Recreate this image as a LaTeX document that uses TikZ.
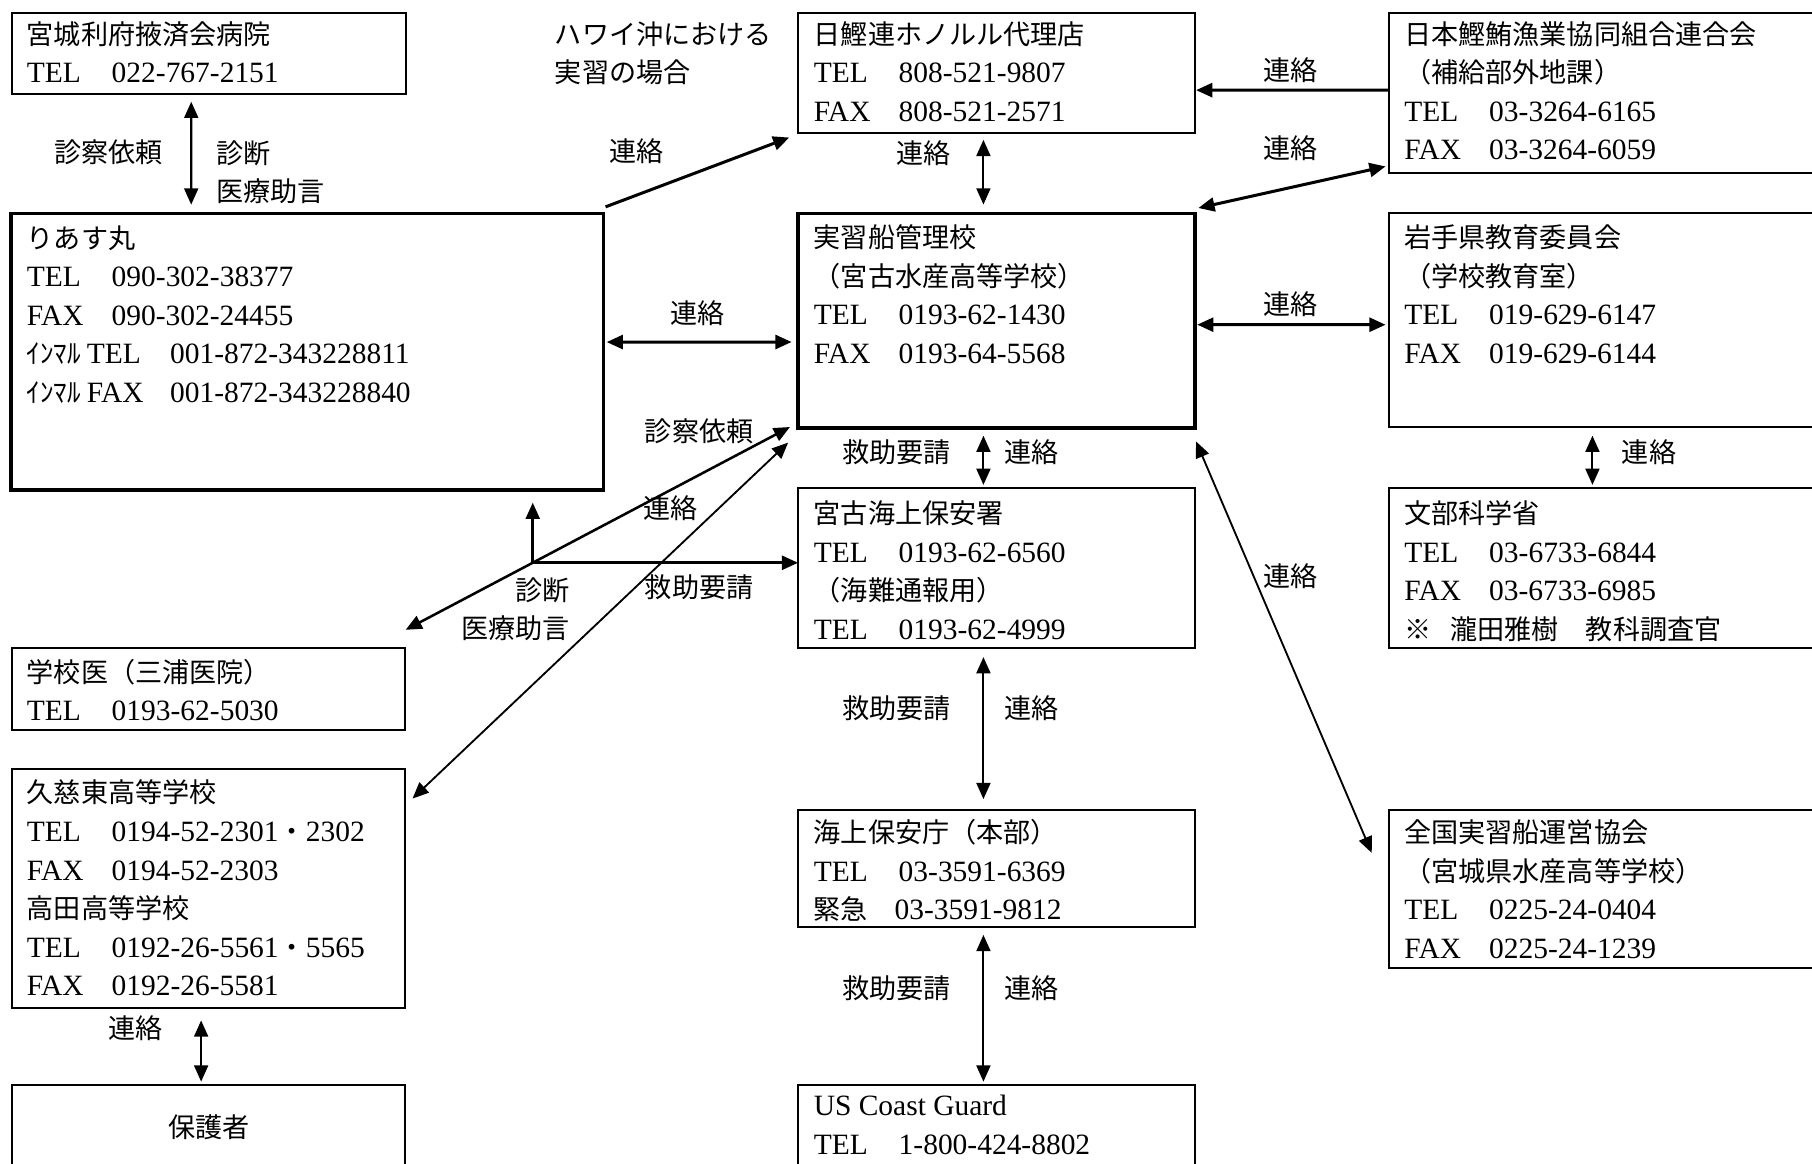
\documentclass[tikz,border=0pt]{standalone}
\usepackage{fontspec}
\setmainfont{Liberation Serif}
\newfontfamily\jp[Scale=0.92]{Noto Sans CJK JP}
\usetikzlibrary{arrows.meta}
\newcommand\fst{\rule{0pt}{25pt}}
\newcommand\numrow[3][73.5pt]{\makebox[#1][l]{#2}#3}
\begin{document}
\begin{tikzpicture}[x=1pt, y=-1pt,
  >={Triangle[length=14pt,width=12pt]},
  box/.style={draw, line width=1.7pt, anchor=north west, inner sep=0pt, outer sep=0pt},
  boldbox/.style={box, line width=3pt},
  txt/.style={anchor=north west, inner sep=0pt, align=left, font=\fontsize{25.5pt}{33.4pt}\selectfont},
  lbl/.style={inner sep=0pt, font=\fontsize{25.5pt}{30pt}\selectfont\jp},
  con/.style={line width=1.8pt},
  heavy/.style={line width=2.6pt},
  light/.style={line width=1.6pt},
  one/.style={con, ->},
  two/.style={con, <->},
]
\useasboundingbox (0,0) rectangle (1568,1007);
\clip (0,0) rectangle (1568,1007);

% boxes
\node[box, minimum width=341pt, minimum height=70pt] (A) at (10,11) {};
\node[boldbox, minimum width=512.3pt, minimum height=239.4pt] (B) at (9.7,184.6) {};
\node[box, minimum width=343.4pt, minimum height=103.8pt] (C) at (690.6,11) {};
\node[box, minimum width=400pt, minimum height=138.2pt] (D) at (1202,11.2) {};
\node[boldbox, minimum width=343.4pt, minimum height=185.9pt] (E) at (690.6,184.6) {};
\node[box, minimum width=400pt, minimum height=185.2pt] (F) at (1202,184.6) {};
\node[box, minimum width=343.4pt, minimum height=138.4pt] (G) at (690.6,422.6) {};
\node[box, minimum width=400pt, minimum height=138.4pt] (H) at (1202,422.6) {};
\node[box, minimum width=340.7pt, minimum height=70.7pt] (I) at (10,561) {};
\node[box, minimum width=340.7pt, minimum height=206.7pt] (J) at (10,665.7) {};
\node[box, minimum width=340.7pt, minimum height=100pt] (K) at (10,939) {};
\node[box, minimum width=343.4pt, minimum height=101.5pt] (L) at (690.6,701) {};
\node[box, minimum width=400pt, minimum height=136.4pt] (M) at (1202,701) {};
\node[box, minimum width=343.4pt, minimum height=100pt] (N) at (690.6,939) {};

% box texts
\node[txt] (tA) at (23,13) {\fst{\jp 宮城利府掖済会病院}\\ \numrow{TEL}{022-767-2151}};
\node[txt] (tB) at (23,189.5) {\fst{\jp りあす丸}\\ \numrow{TEL}{090-302-38377}\\ \numrow{FAX}{090-302-24455}\\ \numrow[124pt]{{\jp ｲﾝﾏﾙ}\hspace{5pt}TEL}{001-872-343228811}\\ \numrow[124pt]{{\jp ｲﾝﾏﾙ}\hspace{5pt}FAX}{001-872-343228840}};
\node[txt] (tC) at (704,13) {\fst{\jp 日鰹連ホノルル代理店}\\ \numrow{TEL}{808-521-9807}\\ \numrow{FAX}{808-521-2571}};
\node[txt] (tD) at (1215,13) {\fst{\jp 日本鰹鮪漁業協同組合連合会}\\ {\jp （補給部外地課）}\\ \numrow{TEL}{03-3264-6165}\\ \numrow{FAX}{03-3264-6059}};
\node[txt] (tE) at (704,189) {\fst{\jp 実習船管理校}\\ {\jp （宮古水産高等学校）}\\ \numrow{TEL}{0193-62-1430}\\ \numrow{FAX}{0193-64-5568}};
\node[txt] (tF) at (1215,189) {\fst{\jp 岩手県教育委員会}\\ {\jp （学校教育室）}\\ \numrow{TEL}{019-629-6147}\\ \numrow{FAX}{019-629-6144}};
\node[txt] (tG) at (704,428) {\fst{\jp 宮古海上保安署}\\ \numrow{TEL}{0193-62-6560}\\ {\jp （海難通報用）}\\ \numrow{TEL}{0193-62-4999}};
\node[txt] (tH) at (1215,428) {\fst{\jp 文部科学省}\\ \numrow{TEL}{03-6733-6844}\\ \numrow{FAX}{03-6733-6985}\\ {\jp ※\hspace{0.7em}瀧田雅樹　教科調査官}};
\node[txt] (tI) at (23,565) {\fst{\jp 学校医（三浦医院）}\\ \numrow{TEL}{0193-62-5030}};
\node[txt] (tJ) at (23,669.5) {\fst{\jp 久慈東高等学校}\\ \numrow{TEL}{0194-52-2301{\jp ・}2302}\\ \numrow{FAX}{0194-52-2303}\\ {\jp 高田高等学校}\\ \numrow{TEL}{0192-26-5561{\jp ・}5565}\\ \numrow{FAX}{0192-26-5581}};
\node[lbl] (tK) at (181,975) {保護者};
\node[txt] (tL) at (704,704) {\fst{\jp 海上保安庁（本部）}\\ \numrow{TEL}{03-3591-6369}\\ \numrow[70pt]{\jp 緊急}{03-3591-9812}};
\node[txt] (tM) at (1215,704) {\fst{\jp 全国実習船運営協会}\\ {\jp （宮城県水産高等学校）}\\ \numrow{TEL}{0225-24-0404}\\ \numrow{FAX}{0225-24-1239}};
\node[txt] (tN) at (704,940.5) {\fst US Coast Guard\\ \numrow{TEL}{1-800-424-8802}};

\node[txt] (hawaii) at (480,13) {\fst{\jp ハワイ沖における}\\ {\jp 実習の場合}};

% connectors
\draw[two, shorten <=7pt, shorten >=7.5pt] ([xshift=-15pt]A.south) -- ([xshift=-100.4pt]B.north);
\draw[one, heavy] ([shift={(2pt,5.6pt)}]B.north east) -- ([shift={(-7.6pt,-4.2pt)}]C.south west);
\draw[two, heavy, shorten <=3pt, shorten >=5.6pt] ([yshift=8.3pt]B.east) -- ([yshift=-18.4pt]E.west);
\draw[one, heavy, shorten >=1pt] ([yshift=2.3pt]D.west) -- ([yshift=-15.1pt]C.east);
\draw[two, shorten <=6.2pt, shorten >=7.6pt] ([xshift=-11.3pt]C.south) -- ([xshift=-11.3pt]E.north);
\draw[two, heavy] ([shift={(3pt,4.6pt)}]E.north east) -- ([shift={(-3pt,5.4pt)}]D.south west);
\draw[two, heavy, shorten <=2pt, shorten >=3pt] ([yshift=-3.4pt]E.east) -- ([yshift=-3.8pt]F.west);
\draw[two, shorten <=6.5pt, shorten >=3pt] ([xshift=-11.3pt]E.south) -- ([xshift=-11.3pt]G.north);
\draw[two, shorten <=7.2pt, shorten >=3pt] ([xshift=-24pt]F.south) -- ([xshift=-24pt]H.north);
\draw[two, shorten <=7.6pt, shorten >=9.5pt] ([xshift=-11.3pt]G.south) -- ([xshift=-11.3pt]L.north);
\draw[two, shorten <=6.5pt, shorten >=3pt] ([xshift=-11.3pt]L.south) -- ([xshift=-11.3pt]N.north);
\draw[two, light] ([shift={(1pt,-11.5pt)}]E.south east) -- ([shift={(-15pt,-37pt)}]M.north west);
\draw[two, shorten <=10.6pt, shorten >=3pt] ([xshift=-6.3pt]J.south) -- ([xshift=-6.3pt]K.north);

\coordinate (jn) at (461,487);
\draw[one, line width=2.2pt, shorten >=11pt] (jn) -- (jn |- B.south);
\draw[one, heavy] (jn) -- (jn -| G.west);
\draw[two, line width=2.2pt] ([shift={(0.3pt,16pt)}]I.north east) -- ([shift={(-7pt,1pt)}]E.south west);
\draw[two, light] ([shift={(6.3pt,-25.3pt)}]J.north east) -- ([shift={(-8.6pt,-12.5pt)}]E.south west);

% labels
\node[lbl] (l1) at (94,132) {診察依頼};
\node[txt] (l2) at (187,116) {\fst{\jp 診断}\\ {\jp 医療助言}};
\node[lbl] (l3) at (551,131) {連絡};
\node[lbl] (l4) at (604,271) {連絡};
\node[lbl] (l5) at (605,373) {診察依頼};
\node[lbl] (l6) at (580,440) {連絡};
\node[txt, anchor=north east, align=right] (l7) at (493,494) {\fst{\jp 診断}\\ {\jp 医療助言}};
\node[lbl] (l8) at (605,508) {救助要請};
\node[lbl] (l9) at (799,133) {連絡};
\node[lbl] (l10) at (1117,61) {連絡};
\node[lbl] (l11) at (1117,128) {連絡};
\node[lbl] (l12) at (1117,263) {連絡};
\node[lbl] (l13) at (776,391) {救助要請};
\node[lbl] (l14) at (893,391) {連絡};
\node[lbl] (l15) at (1427,391) {連絡};
\node[lbl] (l16) at (1117,499) {連絡};
\node[lbl] (l17) at (776,613) {救助要請};
\node[lbl] (l18) at (893,613) {連絡};
\node[lbl] (l19) at (776,855) {救助要請};
\node[lbl] (l20) at (893,855) {連絡};
\node[lbl] (l21) at (117,890) {連絡};
\end{tikzpicture}
\end{document}
